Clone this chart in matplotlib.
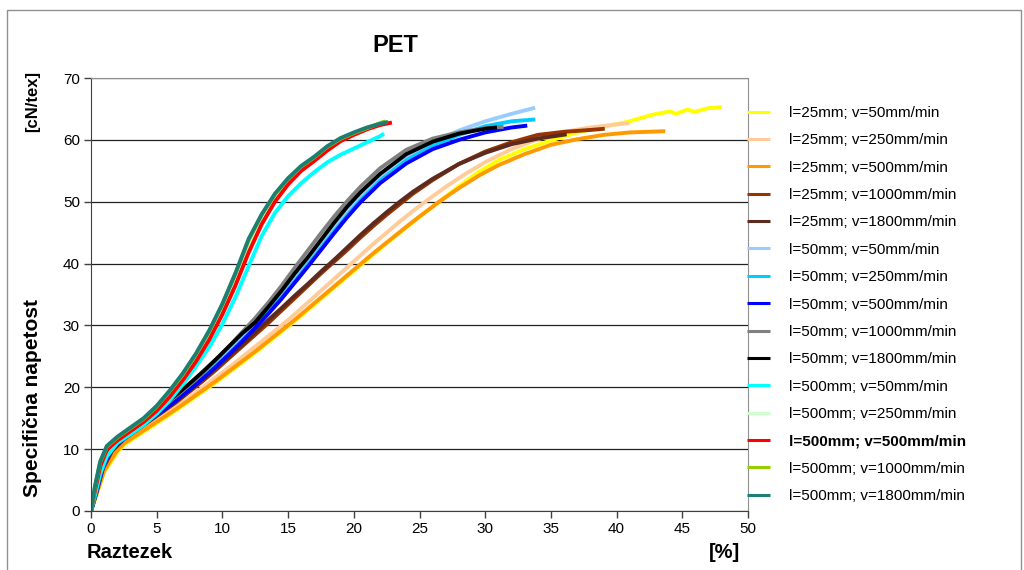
import numpy as np
import matplotlib.pyplot as plt
from matplotlib.patches import Rectangle

plt.rcParams['font.family'] = ['Liberation Sans', 'DejaVu Sans']

# l=25mm
x_25_50 = [0, 0.4, 1.0, 2.0, 2.5, 3.5, 4.5, 5.5, 6.5, 7.5, 8.5, 9.5, 10.5, 11.5, 12.5, 13.5, 14.5, 15.5, 16.5, 17.5,
           18.5, 19.5, 20.5, 21.5, 22.5, 23.5, 24.5, 25.5, 26.5, 28, 29.5, 31, 33, 35, 37, 39, 40.8, 42.8, 44.1,
           44.5, 45.4, 45.9, 46.9, 48.0]
y_25_50 = [0, 2.5, 6.3, 9.5, 10.7, 12.1, 13.5, 14.9, 16.3, 17.8, 19.3, 20.8, 22.4, 24.0, 25.6, 27.3, 29.0, 30.7, 32.5, 34.3,
           36.1, 37.9, 39.7, 41.5, 43.3, 45.0, 46.7, 48.4, 50.0, 52.5, 54.8, 56.7, 58.5, 59.9, 61.2, 62.1, 62.9, 64.1, 64.6,
           64.2, 64.9, 64.5, 65.1, 65.3]

x_25_250 = [0, 0.4, 1.0, 1.8, 2.5, 3.5, 4.5, 5.5, 6.5, 7.5, 8.5, 9.5, 10.5, 11.5, 12.5, 13.5, 14.5, 15.5, 16.5, 17.5,
            18.5, 19.5, 20.5, 21.5, 22.5, 23.5, 24.5, 25.5, 27, 28.5, 30, 32, 34, 36, 38, 40, 41]
y_25_250 = [0, 2.8, 6.8, 9.7, 11.2, 12.6, 14.0, 15.4, 16.9, 18.4, 20.0, 21.6, 23.2, 24.9, 26.6, 28.3, 30.0, 31.8, 33.7, 35.6,
            37.5, 39.4, 41.3, 43.2, 45.0, 46.8, 48.5, 50.1, 52.4, 54.5, 56.4, 58.5, 60.1, 61.3, 62.0, 62.5, 62.7]

x_25_500 = [0, 0.4, 1.0, 1.9, 2.5, 3.5, 4.5, 5.5, 6.5, 7.5, 8.5, 9.5, 10.5, 11.5, 12.5, 13.5, 14.5, 15.5, 16.5, 17.5,
            18.5, 19.5, 20.5, 21.5, 22.5, 23.5, 24.5, 25.5, 26.5, 28, 29.5, 31, 33, 35, 37, 39, 41, 43.7]
y_25_500 = [0, 2.6, 6.5, 9.5, 10.9, 12.3, 13.7, 15.1, 16.5, 18.0, 19.5, 21.0, 22.6, 24.2, 25.8, 27.5, 29.2, 30.9, 32.7, 34.5,
            36.3, 38.1, 39.9, 41.7, 43.4, 45.1, 46.8, 48.4, 50.0, 52.2, 54.2, 55.9, 57.7, 59.2, 60.1, 60.8, 61.2, 61.4]

x_25_1000 = [0, 0.4, 0.9, 1.6, 2.5, 3.5, 4.5, 5.5, 6.5, 7.5, 8.5, 9.5, 10.5, 11.5, 12.5, 13.5, 14.5, 15.5, 16.5, 17.5,
             18.5, 19.5, 20.5, 21.5, 22.5, 23.5, 24.5, 26, 28, 30, 32, 34, 36, 38, 39.1]
y_25_1000 = [0, 2.9, 6.8, 9.7, 11.6, 13.1, 14.6, 16.1, 17.6, 19.3, 21.0, 22.8, 24.7, 26.6, 28.5, 30.4, 32.4, 34.4, 36.4, 38.4,
             40.3, 42.2, 44.2, 46.1, 47.9, 49.6, 51.3, 53.5, 56.1, 58.1, 59.6, 60.8, 61.3, 61.6, 61.8]

x_25_1800 = [0, 0.4, 0.9, 1.6, 2.5, 3.5, 4.5, 5.5, 6.5, 7.5, 8.5, 9.5, 10.5, 11.5, 12.5, 13.5, 14.5, 15.5, 16.5, 17.5,
             18.5, 19.5, 20.5, 21.5, 22.5, 23.5, 24.5, 26, 28, 30, 32, 34, 36.2]
y_25_1800 = [0, 3.0, 7.0, 9.8, 11.7, 13.2, 14.7, 16.2, 17.8, 19.5, 21.3, 23.1, 25.0, 26.9, 28.9, 30.9, 32.8, 34.8, 36.7, 38.7,
             40.6, 42.6, 44.6, 46.5, 48.3, 50.0, 51.6, 53.7, 56.1, 57.9, 59.3, 60.2, 60.9]

# l=50mm
x_50 = [0, 0.4, 0.9, 1.5, 2.5, 3.5, 4.5, 5.5, 6.5, 7.5, 8.5, 9.5, 10.5, 11.5, 12.5, 13.5, 14.5, 15.5, 16.5, 17.5,
        18.5, 19.5, 20.5, 22, 24, 26, 28, 30]
y_50_50 = [0, 3.2, 7.3, 10.0, 11.9, 13.5, 15.0, 16.6, 18.3, 20.0, 21.8, 23.8, 25.9, 28.0, 30.2, 32.5, 35.0, 37.6, 40.3, 43.0,
           45.7, 48.3, 50.7, 53.9, 57.2, 59.6, 61.5, 63.0]
x_50_50_end = [32, 33.8]
y_50_50_end = [64.2, 65.2]
y_50_250 = [0, 3.1, 7.1, 9.9, 11.8, 13.4, 14.9, 16.5, 18.1, 19.8, 21.6, 23.5, 25.5, 27.6, 29.8, 32.1, 34.5, 37.1, 39.8, 42.5,
            45.2, 47.8, 50.2, 53.4, 56.7, 59.0, 60.8, 62.2]
x_50_250_end = [32, 33.8]
y_50_250_end = [63.0, 63.3]
y_50_500 = [0, 3.0, 7.0, 9.8, 11.7, 13.3, 14.8, 16.3, 17.9, 19.6, 21.4, 23.3, 25.3, 27.4, 29.6, 31.9, 34.3, 36.9, 39.5, 42.2,
            44.9, 47.5, 49.9, 53.0, 56.2, 58.5, 60.0, 61.2]
x_50_500_end = [32, 33.2]
y_50_500_end = [62.0, 62.3]
y_50_1000 = [0, 3.3, 7.5, 10.1, 12.0, 13.6, 15.2, 16.9, 18.6, 20.4, 22.3, 24.4, 26.6, 28.9, 31.2, 33.7, 36.4, 39.3, 42.1, 44.9,
             47.6, 50.1, 52.4, 55.4, 58.4, 60.2, 61.2, 61.9]
x_50_1000_end = [31.4]
y_50_1000_end = [62.1]
y_50_1800 = [0, 3.5, 7.8, 10.3, 12.2, 13.8, 15.4, 17.1, 18.8, 20.6, 22.5, 24.5, 26.6, 28.7, 30.5, 33.0, 35.6, 38.4, 41.0, 43.8,
             46.6, 49.2, 51.5, 54.5, 57.7, 59.7, 61.0, 61.8]
x_50_1800_end = [30.9]
y_50_1800_end = [62.0]

# l=500mm
x_500 = [0, 0.3, 0.7, 1.2, 2, 3, 4, 5, 6, 7, 8, 9, 10, 11, 12, 13, 14, 15, 16, 17, 18, 19, 20, 21, 22]
y_500_50 = [0, 2.5, 6.0, 8.8, 11.0, 12.4, 13.9, 15.7, 17.9, 20.5, 23.4, 26.5, 30.2, 34.6, 39.6, 44.5, 48.2, 50.9, 53.0, 54.8,
            56.4, 57.6, 58.6, 59.6, 60.6]
x_500_50_end = [22.3]
y_500_50_end = [61.0]
y_500_250 = [0, 3.7, 7.7, 10.3, 11.7, 13.2, 14.7, 16.5, 18.9, 21.7, 24.8, 28.3, 32.5, 37.4, 42.9, 47.2, 50.6, 53.3, 55.4, 57.0,
             58.6, 59.9, 61.0, 61.8, 62.5]
x_500_250_end = [22.7]
y_500_250_end = [62.9]
y_500_500 = [0, 3.3, 7.2, 9.9, 11.4, 12.9, 14.4, 16.2, 18.5, 21.2, 24.2, 27.7, 31.8, 36.5, 41.8, 46.4, 50.0, 52.8, 55.0, 56.6,
             58.3, 59.8, 60.8, 61.7, 62.4]
x_500_500_end = [22.9]
y_500_500_end = [62.8]
y_500_1000 = [0, 3.9, 7.9, 10.4, 11.9, 13.4, 14.9, 16.9, 19.4, 22.1, 25.4, 29.1, 33.4, 38.4, 43.8, 47.9, 51.2, 53.7, 55.7, 57.2,
              58.9, 60.2, 61.1, 61.9, 62.7]
x_500_1000_end = [22.4]
y_500_1000_end = [63.0]
y_500_1800 = [0, 4.0, 8.0, 10.5, 12.0, 13.5, 15.0, 17.0, 19.5, 22.3, 25.5, 29.2, 33.5, 38.5, 44.0, 48.0, 51.3, 53.8, 55.8, 57.3,
              59.0, 60.3, 61.2, 62.0, 62.6]
x_500_1800_end = [22.6]
y_500_1800_end = [62.9]

labels = ["l=25mm; v=50mm/min", "l=25mm; v=250mm/min", "l=25mm; v=500mm/min", "l=25mm; v=1000mm/min",
          "l=25mm; v=1800mm/min", "l=50mm; v=50mm/min", "l=50mm; v=250mm/min", "l=50mm; v=500mm/min",
          "l=50mm; v=1000mm/min", "l=50mm; v=1800mm/min", "l=500mm; v=50mm/min", "l=500mm; v=250mm/min",
          "l=500mm; v=500mm/min", "l=500mm; v=1000mm/min", "l=500mm; v=1800mm/min"]
colors = ["#FFFF00", "#FFCC99", "#FF9900", "#993300", "#5C2A1E", "#99CCFF", "#00CCFF", "#0000FF",
          "#808080", "#000000", "#00FFFF", "#CCFFCC", "#FF0000", "#99CC00", "#1B7F74"]

series = [
    (x_25_50, y_25_50),
    (x_25_250, y_25_250),
    (x_25_500, y_25_500),
    (x_25_1000, y_25_1000),
    (x_25_1800, y_25_1800),
    (x_50 + x_50_50_end, y_50_50 + y_50_50_end),
    (x_50 + x_50_250_end, y_50_250 + y_50_250_end),
    (x_50 + x_50_500_end, y_50_500 + y_50_500_end),
    (x_50 + x_50_1000_end, y_50_1000 + y_50_1000_end),
    (x_50 + x_50_1800_end, y_50_1800 + y_50_1800_end),
    (x_500 + x_500_50_end, y_500_50 + y_500_50_end),
    (x_500 + x_500_250_end, y_500_250 + y_500_250_end),
    (x_500 + x_500_500_end, y_500_500 + y_500_500_end),
    (x_500 + x_500_1000_end, y_500_1000 + y_500_1000_end),
    (x_500 + x_500_1800_end, y_500_1800 + y_500_1800_end),
]

fig = plt.figure(figsize=(10.24, 5.70), dpi=100)
ax = fig.add_axes([91 / 1024, 1 - 511 / 570, (748 - 91) / 1024, (511 - 78) / 570])

for (xs, ys), c, lab in zip(series, colors, labels):
    ax.plot(xs, ys, color=c, lw=2.8, label=lab, solid_capstyle='butt')

ax.set_xlim(0, 50)
ax.set_ylim(0, 70)
ax.set_xticks(np.arange(0, 51, 5))
ax.set_yticks(np.arange(0, 71, 10))
ax.yaxis.grid(True, color='#202020', lw=0.9)
ax.set_axisbelow(True)
ax.tick_params(direction='out', length=5, width=1, color='#404040', labelsize=11, pad=3)
for s in ['top', 'right']:
    ax.spines[s].set_color('#909090')
for s in ['left', 'bottom']:
    ax.spines[s].set_color('#404040')

leg = ax.legend(loc='upper left', bbox_to_anchor=(747 / 1024, 1 - 106 / 570), bbox_transform=fig.transFigure,
                frameon=False, fontsize=11, handlelength=1.5, handletextpad=1.25, labelspacing=0.875,
                borderpad=0, borderaxespad=0)
for h in leg.legend_handles:
    h.set_linewidth(2.2)
leg.get_texts()[12].set_fontweight('bold')

fig.text(395 / 1024, 1 - 45 / 570, "PET", ha='center', va='center', fontsize=17, fontweight='bold')
fig.text(33 / 1024, 1 - 398 / 570, "Specifična napetost", rotation=90, ha='center', va='center',
         fontsize=15, fontweight='bold')
fig.text(33 / 1024, 1 - 101 / 570, "[cN/tex]", rotation=90, ha='center', va='center', fontsize=12, fontweight='bold')
fig.text(87 / 1024, 1 - 553 / 570, "Raztezek", ha='left', va='center', fontsize=14.5, fontweight='bold')
fig.text(740 / 1024, 1 - 553 / 570, "[%]", ha='right', va='center', fontsize=14.5, fontweight='bold')

fig.patches.append(Rectangle((7 / 1024, -0.05), (1021 - 7) / 1024, 1.05 - 10 / 570, transform=fig.transFigure,
                             fill=False, edgecolor='#909090', lw=1))

fig.savefig("out.png", dpi=100)
